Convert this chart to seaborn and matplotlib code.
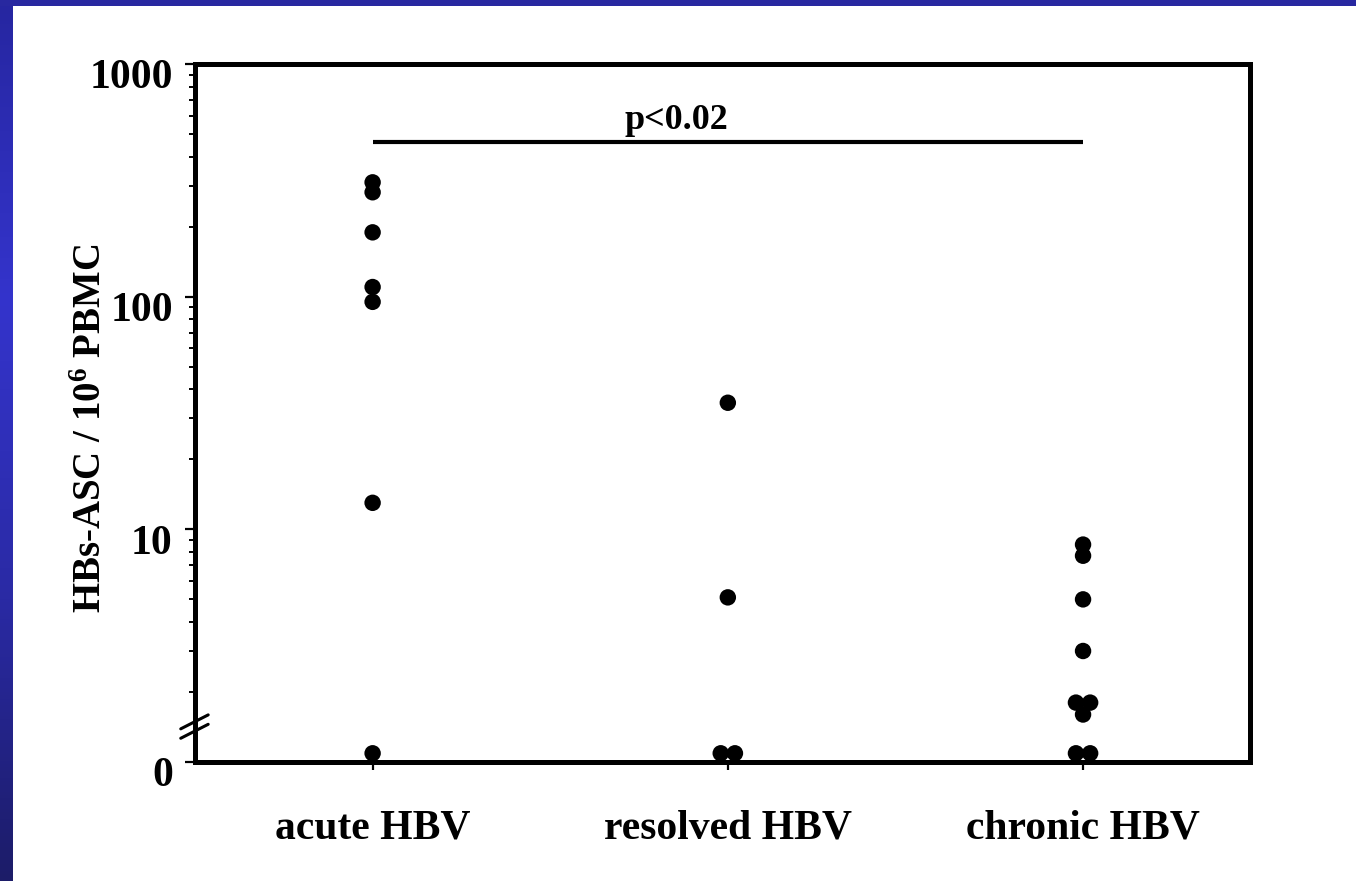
import numpy as np
import pandas as pd
import matplotlib
matplotlib.use("Agg")
import matplotlib.pyplot as plt
import matplotlib.transforms as mtransforms
from matplotlib.colors import LinearSegmentedColormap
from matplotlib.ticker import LogLocator, NullFormatter
import seaborn as sns

# ---------------- data ----------------
groups = ["acute HBV", "resolved HBV", "chronic HBV"]
acute = [310, 281, 189, 110, 95, 13, 0]
resolved = [35, 5.1, 0, 0]
chronic = [8.6, 7.7, 5.0, 3.0, 1.8, 1.8, 1.6, 0, 0]
ytick_values = [1, 10, 100, 1000]
ytick_labels = ["0", "10", "100", "1000"]
zero_display = 1.09          # "0" is drawn on the axis break baseline
p_text = "p<0.02"
p_bar_y = 460

# ---------------- style ----------------
sns.set_theme(style="white")
plt.rcParams["font.family"] = ["Liberation Serif", "DejaVu Serif"]
plt.rcParams["font.weight"] = "bold"
plt.rcParams["text.color"] = "black"
plt.rcParams["axes.labelcolor"] = "black"
plt.rcParams["xtick.color"] = "black"
plt.rcParams["ytick.color"] = "black"
plt.rcParams["mathtext.fontset"] = "custom"
plt.rcParams["mathtext.rm"] = "Liberation Serif:bold"
plt.rcParams["mathtext.bf"] = "Liberation Serif:bold"
plt.rcParams["mathtext.it"] = "Liberation Serif:bold"

W, H = 1356, 881
fig = plt.figure(figsize=(W / 100, H / 100), dpi=100)
fig.patch.set_facecolor("white")

# blue frame (left gradient band, top band)
cmap = LinearSegmentedColormap.from_list(
    "band", [(0.0, "#2626a0"), (0.34, "#3434cc"), (0.68, "#2a2aa4"), (1.0, "#1c1c68")])
band = fig.add_axes([0, 0, 13 / W, 1])
band.imshow(np.linspace(0, 1, 256).reshape(-1, 1), aspect="auto", cmap=cmap)
band.set_axis_off()
top = fig.add_axes([0, 1 - 6 / H, 1, 6 / H])
top.set_facecolor("#2828a0")
top.set_xticks([]); top.set_yticks([])
for s in top.spines.values():
    s.set_visible(False)

# ---------------- table ----------------
rows = []
for g, vals in zip(groups, [acute, resolved, chronic]):
    for v in vals:
        rows.append({"group": g, "value": v})
df = pd.DataFrame(rows)
df["gidx"] = df["group"].map({g: i for i, g in enumerate(groups)})
df["y"] = np.where(df["value"] == 0, zero_display, df["value"])
# side-by-side placement of identical values inside a group
df["rank"] = df.groupby(["group", "value"]).cumcount()
df["n"] = df.groupby(["group", "value"])["value"].transform("size")
df["x"] = df["gidx"] + (df["rank"] - (df["n"] - 1) / 2) * 0.04

# ---------------- main axes ----------------
ax = fig.add_axes([195 / W, (H - 762) / H, (1250 - 195) / W, (762 - 64) / H])
sns.scatterplot(data=df, x="x", y="y", ax=ax, color="black", s=140,
                edgecolor="none", linewidth=0, legend=False, zorder=3)

ax.set_yscale("log")
ax.set_ylim(1, 1000)
ax.set_xlim(-0.5, 2.47)
ax.set_yticks(ytick_values)
ax.set_yticklabels(ytick_labels)
ax.yaxis.set_minor_locator(LogLocator(base=10, subs=np.arange(2, 10)))
ax.yaxis.set_minor_formatter(NullFormatter())
ax.set_xticks(range(len(groups)))
ax.set_xticklabels(groups)
ax.set_xlabel("")
ax.set_ylabel("HBs-ASC / 10$^{6}$ PBMC", fontsize=28, fontweight="bold")
ax.yaxis.set_label_coords(-0.081, 0.478)

for s in ax.spines.values():
    s.set_visible(True)
    s.set_linewidth(3.6)
    s.set_color("black")

ax.tick_params(axis="y", which="major", length=7, width=1.6, direction="out",
               labelsize=30, pad=9, left=True, colors="black")
ax.tick_params(axis="y", which="minor", length=4, width=1.4, direction="out", left=True)
ax.tick_params(axis="x", which="major", length=6, width=1.6, direction="out",
               labelsize=30, pad=28, bottom=True, colors="black")

off = mtransforms.ScaledTranslation(0, -10 / 100, fig.dpi_scale_trans)
for lab in ax.get_yticklabels():
    lab.set_transform(lab.get_transform() + off)
    lab.set_fontweight("bold")
for lab in ax.get_xticklabels():
    lab.set_fontweight("bold")

# significance bar
ax.plot([0, len(groups) - 1], [p_bar_y, p_bar_y], color="black", lw=3.0,
        solid_capstyle="butt", zorder=2)
ax.text(0.855, p_bar_y * 1.14, p_text, ha="center", va="baseline",
        fontsize=26, fontweight="bold", color="black")

# axis break marks on the left spine
for dy in (0.0, 0.0135):
    ax.plot([-0.0135, 0.0125], [0.034 + dy, 0.054 + dy], transform=ax.transAxes,
            color="black", lw=2.2, clip_on=False, zorder=5)

fig.savefig("out.png", dpi=100, facecolor=fig.get_facecolor())
